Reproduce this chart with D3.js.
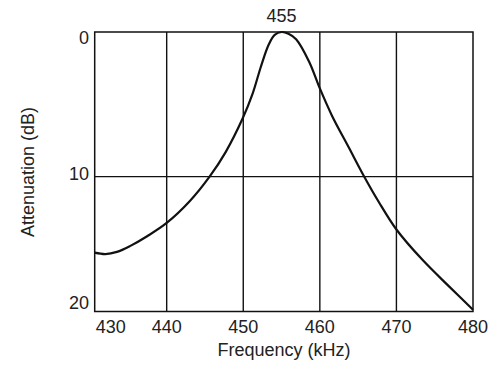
<!DOCTYPE html>
<html>
<head>
<meta charset="utf-8">
<script src="https://cdn.jsdelivr.net/npm/d3@7"></script>
<style>
  body { margin: 0; background: #fff; }
  text { font-family: "Liberation Sans", Arial, sans-serif; fill: #222; }
</style>
</head>
<body>
<div id="chart"></div>
<script>
// frequency (kHz) and attenuation (dB)
const freqs = [430.6, 432, 433.5, 435.2, 437.5, 440, 443, 445.6, 447.7, 449.9, 451.2, 452.3, 453.3, 454.1, 455,
  455.9, 456.9, 458.6, 460, 461.6, 463.8, 465.8, 467.7, 470, 473.4, 476.9, 480];
const atten = [15.25, 15.35, 15.2, 14.8, 14.1, 13.2, 11.7, 10, 8.3, 6.0, 4.3, 2.4, 0.9, 0.2, 0,
  0.12, 0.5, 2.05, 3.9, 5.8, 8.0, 10, 11.75, 13.65, 15.75, 17.6, 19.2];
const xTicks = [430, 440, 450, 460, 470, 480];
const yTicks = [0, 10, 20];
const peakLabel = 455;

const width = 490, height = 366;
const margin = {top: 32, right: 17, bottom: 54.5, left: 94.7};

const svg = d3.select("#chart").append("svg")
  .attr("width", width)
  .attr("height", height);

const x = d3.scaleLinear()
  .domain([430.6, 480])
  .range([margin.left, width - margin.right]);
const y = d3.scaleLinear()
  .domain([0, 19.32])
  .range([margin.top, height - margin.bottom]);

const plotL = margin.left, plotR = width - margin.right;
const plotT = margin.top, plotB = height - margin.bottom;

// grid lines
svg.append("g")
  .selectAll("line")
  .data(xTicks.filter(d => d > 430.6 && d < 480))
  .join("line")
  .attr("x1", d => x(d)).attr("x2", d => x(d))
  .attr("y1", plotT).attr("y2", plotB)
  .attr("stroke", "#111").attr("stroke-width", 1.4);
svg.append("g")
  .selectAll("line")
  .data(yTicks.filter(d => d > 0 && d < 19.32))
  .join("line")
  .attr("x1", plotL).attr("x2", plotR)
  .attr("y1", d => y(d)).attr("y2", d => y(d))
  .attr("stroke", "#111").attr("stroke-width", 1.4);

// frame
svg.append("rect")
  .attr("x", plotL).attr("y", plotT)
  .attr("width", plotR - plotL).attr("height", plotB - plotT)
  .attr("fill", "none").attr("stroke", "#111").attr("stroke-width", 1.5);

// curve
const line = d3.line()
  .x((d, i) => x(freqs[i]))
  .y(d => y(d))
  .curve(d3.curveCatmullRom.alpha(0.5));
svg.append("path")
  .datum(atten)
  .attr("d", line)
  .attr("fill", "none")
  .attr("stroke", "#111")
  .attr("stroke-width", 2.2);

// x tick labels
svg.append("g")
  .selectAll("text")
  .data(xTicks)
  .join("text")
  .attr("x", d => Math.max(x(d), plotL + 16))
  .attr("y", 333)
  .attr("text-anchor", "middle")
  .attr("font-size", 18)
  .text(d => d);

// y tick labels
svg.append("g")
  .selectAll("text")
  .data(yTicks)
  .join("text")
  .attr("x", 89)
  .attr("y", d => Math.min(Math.max(y(d), plotT + 9), plotB - 6) - 3)
  .attr("dy", "0.35em")
  .attr("text-anchor", "end")
  .attr("font-size", 18)
  .text(d => d);

// peak label
svg.append("text")
  .attr("x", x(peakLabel))
  .attr("y", 22)
  .attr("text-anchor", "middle")
  .attr("font-size", 18)
  .text(peakLabel);

// axis titles
svg.append("text")
  .attr("x", 284)
  .attr("y", 356)
  .attr("text-anchor", "middle")
  .attr("font-size", 18)
  .text("Frequency (kHz)");
svg.append("text")
  .attr("transform", "translate(34,172) rotate(-90)")
  .attr("text-anchor", "middle")
  .attr("font-size", 18)
  .text("Attenuation (dB)");
</script>
</body>
</html>
